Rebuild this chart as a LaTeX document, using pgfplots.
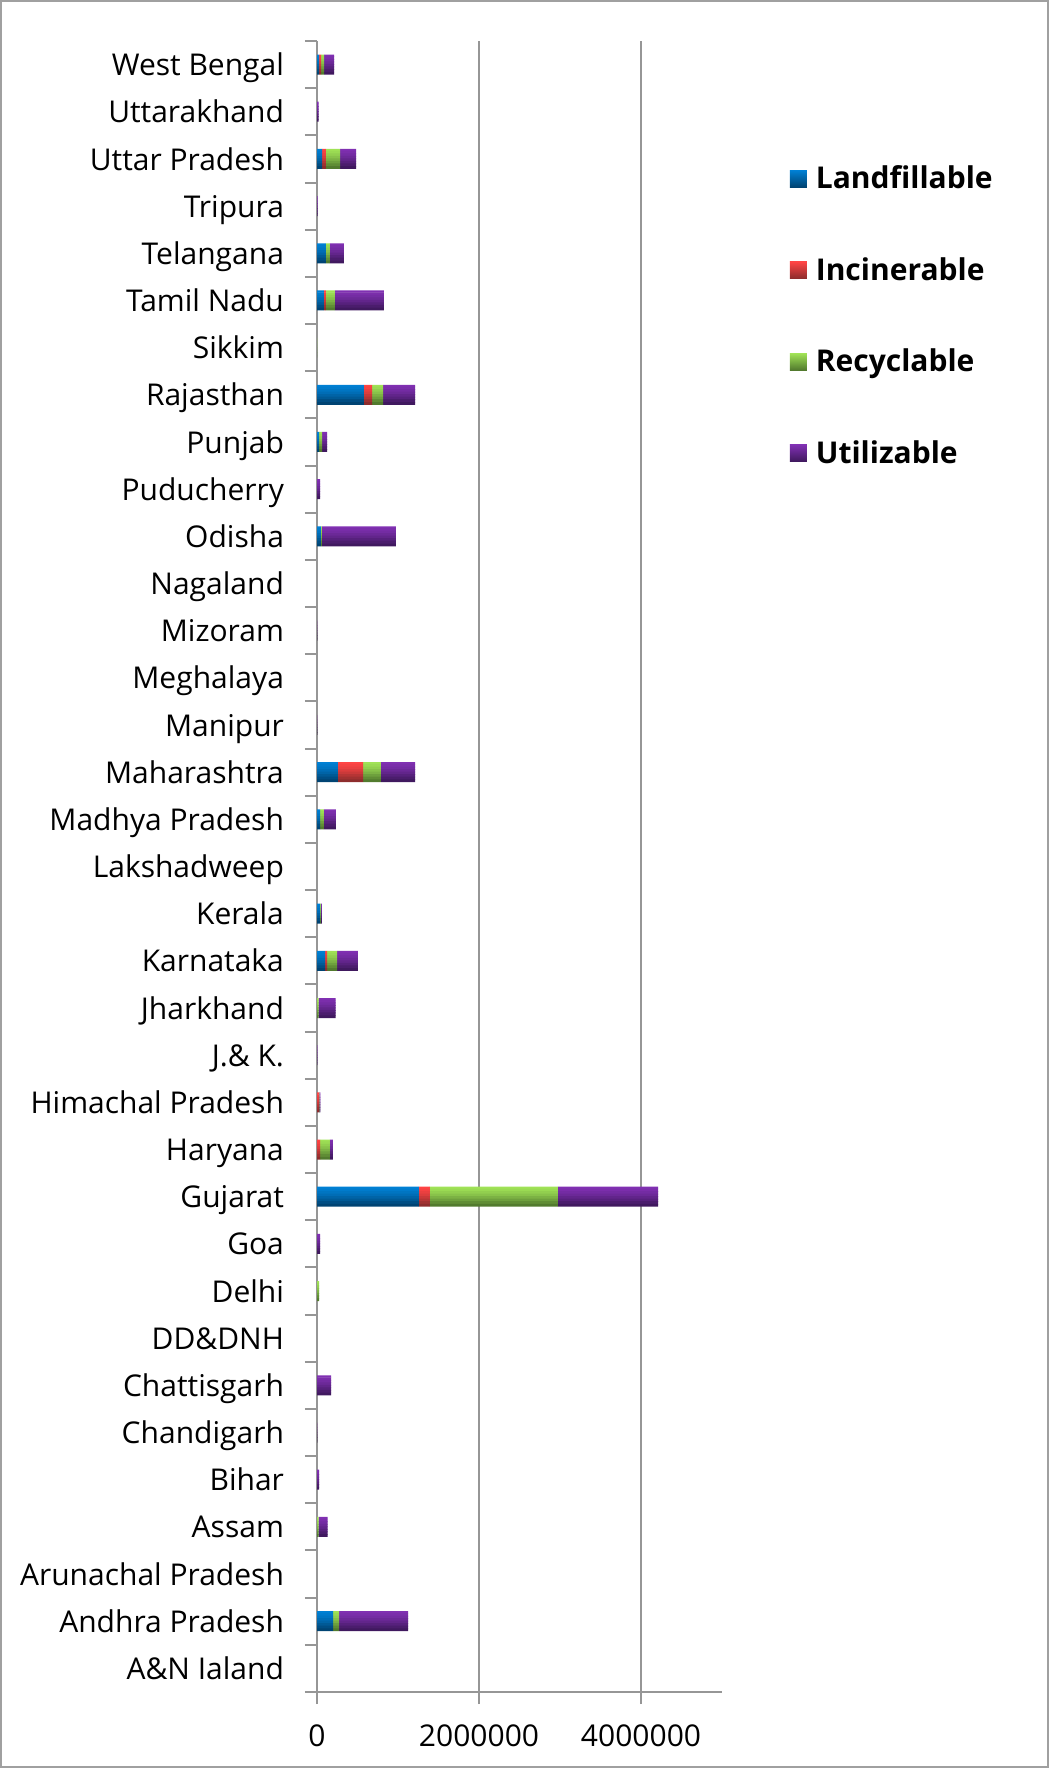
\documentclass[border=0pt]{standalone}
\usepackage{fontspec}
\setmainfont{Open Sans}
\usepackage{pgfplots}
\usepackage{pgfplotstable}
\pgfplotsset{compat=1.18}

\definecolor{axgray}{RGB}{150,150,150}
\definecolor{frgray}{RGB}{160,160,160}
\definecolor{lfT}{RGB}{0,128,212}\definecolor{lfB}{RGB}{0,66,112}
\definecolor{inT}{RGB}{255,68,68}\definecolor{inB}{RGB}{138,44,44}
\definecolor{reT}{RGB}{160,226,86}\definecolor{reB}{RGB}{80,120,45}
\definecolor{utT}{RGB}{128,48,178}\definecolor{utB}{RGB}{62,24,92}

% Solid waste by state (TPA): landfillable, incinerable, recyclable, utilizable
\pgfplotstableread{
idx L I R U
0 0 0 0 0
1 198000 0 74000 852000
2 0 0 0 0
3 0 0 20000 111000
4 0 0 0 25000
5 0 0 2000 2000
6 0 0 0 173000
7 0 0 0 0
8 0 0 25000 0
9 0 0 0 37000
10 1259000 136000 1580000 1235000
11 0 37000 123000 37000
12 0 25000 5000 12000
13 0 0 0 5000
14 0 0 20000 210000
15 99000 25000 123000 259000
16 37000 0 12000 12000
17 0 0 0 0
18 37000 0 49000 148000
19 259000 309000 222000 420000
20 0 0 2000 2000
21 0 0 0 0
22 0 0 3000 1000
23 0 0 0 0
24 49000 0 12000 914000
25 0 0 0 37000
26 25000 0 37000 62000
27 580000 99000 136000 395000
28 0 0 3000 0
29 86000 25000 111000 605000
30 111000 0 49000 173000
31 0 0 0 8000
32 62000 49000 173000 198000
33 0 0 0 20000
34 25000 25000 37000 123000
}\wastedata

\pgfplotsset{
  wastebase/.style={
    at={(158.5pt,38pt)}, anchor=south west,
    scale only axis, width=202.5pt, height=825.5pt,
    xmin=0, xmax=5000000, ymin=-0.5, ymax=34.5,
  },
}

% one horizontal slice of every stacked bar, in an overlaid axis;
% the slices together give each bar its light-top / dark-bottom gradient
\newcommand\wasteslice[3]{%
  \begin{axis}[wastebase, hide axis, xbar stacked, bar width=#3, bar shift=#1]
  \addplot[draw=none, fill=lfT!#2!lfB] table[x=L, y=idx] {\wastedata};
  \addplot[draw=none, fill=inT!#2!inB] table[x=I, y=idx] {\wastedata};
  \addplot[draw=none, fill=reT!#2!reB] table[x=R, y=idx] {\wastedata};
  \addplot[draw=none, fill=utT!#2!utB] table[x=U, y=idx] {\wastedata};
  \end{axis}%
}

\begin{document}
\begin{tikzpicture}
\path[use as bounding box] (0,0) rectangle (524.5pt,884pt);
\draw[frgray, line width=0.6pt] (0.5pt,0.5pt) rectangle (524pt,883.5pt);
\begin{axis}[
  wastebase,
  axis x line*=bottom, axis y line*=left,
  axis line style={axgray, line width=1pt},
  tick style={axgray, line width=1pt},
  tick align=outside, major tick length=6pt,
  xtick={0,2000000,4000000},
  scaled x ticks=false,
  xticklabel style={/pgf/number format/fixed, /pgf/number format/1000 sep={}, font=\fontsize{15}{18}\selectfont, yshift=-7pt},
  /pgf/number format/assume math mode=true,
  xmajorgrids, grid style={axgray, line width=1pt},
  ytick={-0.5,0.5,...,34.5}, yticklabels={},
  extra y ticks={0,1,...,34},
  extra y tick style={tick style={draw=none}, grid=none},
  extra y tick labels={A\&N Ialand, Andhra Pradesh, Arunachal Pradesh, Assam, Bihar, Chandigarh, Chattisgarh, DD\&DNH, Delhi, Goa, Gujarat, Haryana, Himachal Pradesh, J.\& K., Jharkhand, Karnataka, Kerala, Lakshadweep, Madhya Pradesh, Maharashtra, Manipur, Meghalaya, Mizoram, Nagaland, Odisha, Puducherry, Punjab, Rajasthan, Sikkim, Tamil Nadu, Telangana, Tripura, Uttar Pradesh, Uttarakhand, West Bengal},
  yticklabel style={font=\fontsize{15}{18}\selectfont, xshift=-7pt, yshift=-1.8pt, text height=11pt, text depth=3.5pt},
  legend image code/.code={\path[#1, draw=none] (0pt,-4.25pt) rectangle (8.5pt,4.25pt); \path (10.75pt,0pt);},
  legend style={at={(1.152,0.9295)}, anchor=north west, draw=none, fill=none,
    font=\fontsize{15}{18}\bfseries\selectfont, row sep=28.85pt},
  legend cell align=left,
]
\addlegendimage{top color=lfT, bottom color=lfB}
\addlegendimage{top color=inT, bottom color=inB}
\addlegendimage{top color=reT, bottom color=reB}
\addlegendimage{top color=utT, bottom color=utB}
\legend{Landfillable, Incinerable, Recyclable, Utilizable}
\end{axis}
\wasteslice{4.4375pt}{100}{1.125pt}
\wasteslice{3.1875pt}{92}{1.7pt}
\wasteslice{1.9375pt}{82}{1.7pt}
\wasteslice{0.6875pt}{70}{1.7pt}
\wasteslice{-0.5625pt}{55}{1.7pt}
\wasteslice{-1.8125pt}{38}{1.7pt}
\wasteslice{-3.0625pt}{20}{1.7pt}
\wasteslice{-4.3125pt}{3}{1.375pt}
\end{tikzpicture}
\end{document}
